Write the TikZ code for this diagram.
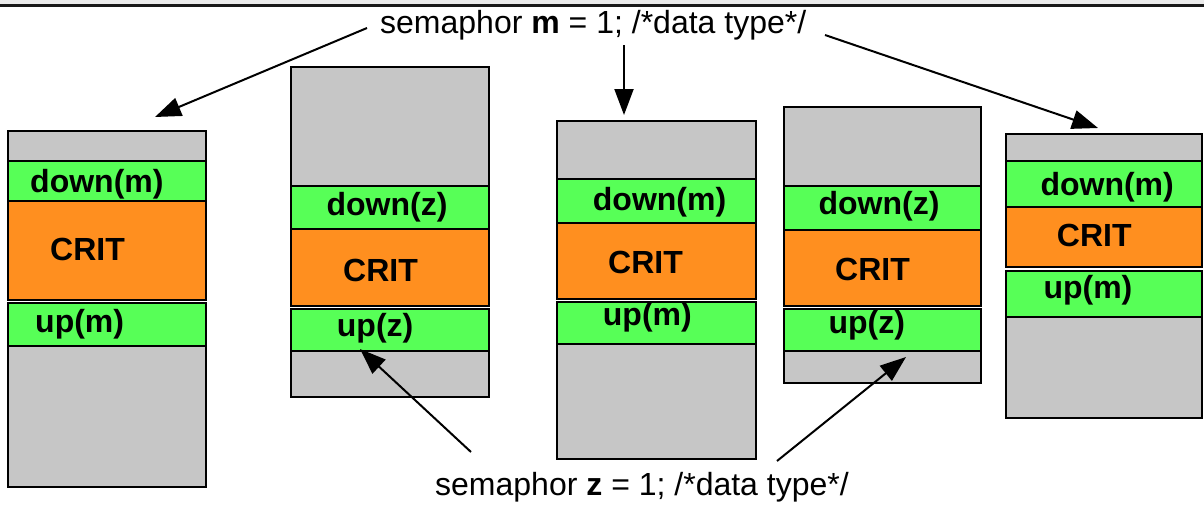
\documentclass[tikz,border=0pt]{standalone}
\usepackage{fontspec}
\setmainfont{Liberation Sans}
\usetikzlibrary{arrows.meta}

\definecolor{cellgray}{HTML}{C6C6C6}
\definecolor{cellgreen}{HTML}{57FF57}
\definecolor{cellorange}{HTML}{FF8F1F}
\definecolor{bandgray}{HTML}{EBEBEB}

\tikzset{
  cell/.style={draw=black, line width=2pt},
  graycell/.style={cell, fill=cellgray},
  greencell/.style={cell, fill=cellgreen},
  orangecell/.style={cell, fill=cellorange},
  lbl/.style={anchor=base west, inner sep=0pt,
    font=\fontsize{32}{37}\selectfont\bfseries},
  header/.style={anchor=base west, inner sep=0pt,
    font=\fontsize{32}{38}\selectfont},
  link/.style={draw=black, line width=2pt,
    -{Triangle[length=26pt,width=19pt]}}
}

\begin{document}
\begin{tikzpicture}[x=1pt, y=1pt]
\useasboundingbox (0,0) rectangle (1204,-507);
\fill[white] (0,0) rectangle (1204,-507);

% top rule
\fill[bandgray] (0,0) rectangle (1204,-4);
\draw[line width=2.5pt, black!90] (0,-5.25) -- (1204,-5.25);

% process stacks: gray / down / CRIT / up / gray
\foreach \l/\r/\a/\b/\c/\d/\e/\f/\g in {
    8/206/131/161/201/300/303/346/487,
    291/489/67/186/229/306/309/351/397,
    557/756/121/179/222.5/299/302/344/459,
    784/981/107/186/230/306/309/351/383,
    1005.5/1202/134/160.5/206.5/267/271/317/418} {
  \draw[graycell]   (\l,-\a) rectangle (\r,-\b);
  \draw[greencell]  (\l,-\b) rectangle (\r,-\c);
  \draw[orangecell] (\l,-\c) rectangle (\r,-\d);
  \draw[greencell]  (\l,-\e) rectangle (\r,-\f);
  \draw[graycell]   (\l,-\f) rectangle (\r,-\g);
}

% stack labels
\foreach \k/\s/\xd/\yd/\xc/\yc/\xu/\yu in {
    1/m/30/184/50/249/35/324.5,
    2/z/326.4/206.7/343/270/336.7/328.3,
    3/m/592.7/201.7/608/262.5/602.7/317.5,
    4/z/818.4/205.8/835/269.5/828.3/325.5,
    5/m/1040.3/187.5/1056.7/235.3/1043.3/290} {
  \node[lbl] (down\k) at (\xd,{-\yd-8.3}) {down(\s)};
  \node[lbl] (crit\k) at (\xc,{-\yc-11.4}) {CRIT};
  \node[lbl] (up\k)   at (\xu,{-\yu-8.3}) {up(\s)};
}

% declarations
\node[header] (semm) at (380,-33) {semaphor \textbf{m} = 1; /*data type*/};
\node[header] (semz) at (435,-495) {semaphor \textbf{z} = 1; /*data type*/};

% arrow ends
\coordinate (m1s) at (367,-28);   \coordinate (m1t) at (155,-117);
\coordinate (m3s) at (624,-45);   \coordinate (m3t) at (624,-115);
\coordinate (m5s) at (825,-35);   \coordinate (m5t) at (1098,-128);
\coordinate (z2s) at (471,-452);  \coordinate (z2t) at (360,-349);
\coordinate (z4s) at (777,-461);  \coordinate (z4t) at (906,-357);

\draw[link] (m1s) -- (m1t);
\draw[link] (m3s) -- (m3t);
\draw[link] (m5s) -- (m5t);
\draw[link] (z2s) -- (z2t);
\draw[link] (z4s) -- (z4t);
\end{tikzpicture}
\end{document}
